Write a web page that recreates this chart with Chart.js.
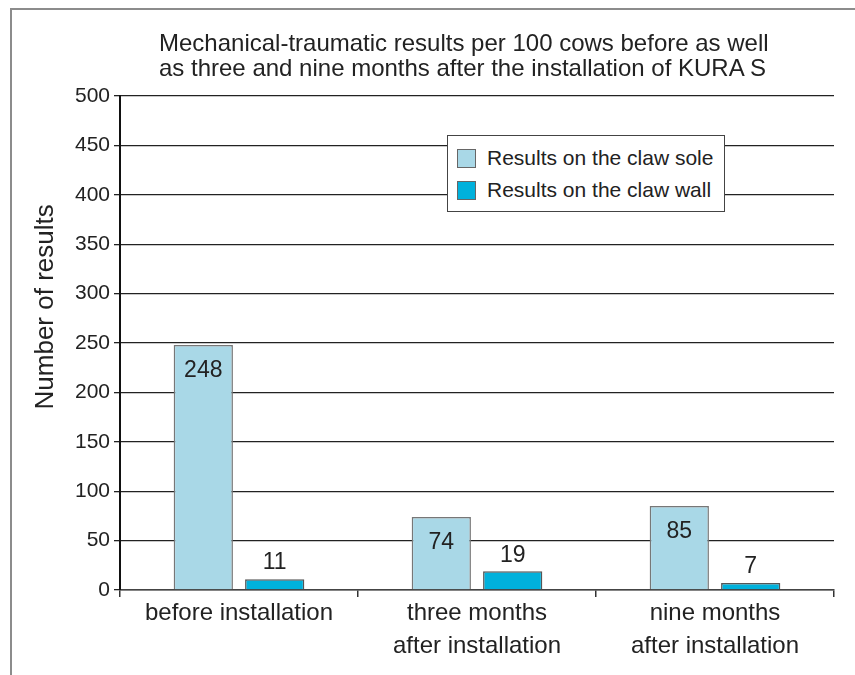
<!DOCTYPE html>
<html>
<head>
<meta charset="utf-8">
<script src="https://cdn.jsdelivr.net/npm/chart.js@4.4.1/dist/chart.umd.min.js"></script>
<style>
  html, body { margin: 0; padding: 0; background: #fff; }
  #wrap { position: relative; width: 855px; height: 675px; overflow: hidden; }
  #frame { position: absolute; left: 10px; top: 8px; width: 900px; height: 700px;
           border-left: 2px solid #8c8c8c; border-top: 2px solid #8c8c8c; }
  #chart { position: absolute; left: 0; top: 0; }
  #title { position: absolute; left: 159px; width: 600px; top: 30px; text-align: center;
           font: 24px/25px "Liberation Sans", Arial, sans-serif; color: #222; white-space: nowrap; }
  #legend { position: absolute; left: 447px; top: 135px; width: 278px; height: 77px;
            border: 1px solid #444; background: #fff; box-sizing: border-box;
            font: 21px "Liberation Sans", Arial, sans-serif; color: #222; padding-top: 6px; }
  #legend div { height: 32px; display: flex; align-items: center; }
  #legend span.box { display: inline-block; width: 17px; height: 17px; margin-left: 9px;
                     margin-right: 11px; border: 1px solid #666; }
</style>
</head>
<body>
<div id="wrap">
  <div id="frame"></div>
  <canvas id="chart" width="855" height="675"></canvas>
  <div id="title">Mechanical-traumatic results per 100 cows before as well<br>as three and nine months after the installation of KURA S</div>
  <div id="legend"></div>
</div>
<script>
const categories = ['before installation', ['three months', 'after installation'], ['nine months', 'after installation']];
const seriesNames = ['Results on the claw sole', 'Results on the claw wall'];
const soleValues = [248, 74, 85];
const wallValues = [11, 19, 7];
const yTicks = { min: 0, max: 500, step: 50 };

const soleColor = '#a9d8e7';
const wallColor = '#00b1dc';
const font = '"Liberation Sans", Arial, sans-serif';

const valueLabels = {
  id: 'valueLabels',
  afterDatasetsDraw(chart) {
    const ctx = chart.ctx;
    ctx.save();
    ctx.font = '23px ' + font;
    ctx.fillStyle = '#222';
    ctx.textAlign = 'center';
    ctx.textBaseline = 'middle';
    chart.data.datasets.forEach((ds, di) => {
      chart.getDatasetMeta(di).data.forEach((bar, i) => {
        const y = di === 0 ? bar.y + 26 : bar.y - 16;
        ctx.fillText(String(ds.data[i]), bar.x, y);
      });
    });
    ctx.restore();
  }
};

const chart = new Chart(document.getElementById('chart'), {
  type: 'bar',
  data: {
    labels: categories,
    datasets: [
      { label: seriesNames[0], data: soleValues, backgroundColor: soleColor,
        borderColor: '#777', borderWidth: 1.5, categoryPercentage: 0.6, barPercentage: 0.83 },
      { label: seriesNames[1], data: wallValues, backgroundColor: wallColor,
        borderColor: '#555', borderWidth: 1.5, categoryPercentage: 0.6, barPercentage: 0.83 }
    ]
  },
  options: {
    responsive: false,
    animation: false,
    layout: { padding: { left: 0, right: 21, top: 96, bottom: 0 } },
    plugins: {
      legend: { display: false },
      tooltip: { enabled: false }
    },
    scales: {
      x: {
        grid: {
          drawOnChartArea: true,
          color: c => c.index === 3 ? '#222' : 'rgba(0,0,0,0)',
          tickColor: '#333',
          tickLength: 7,
          lineWidth: 1.5
        },
        border: { color: '#444', width: 1.5 },
        ticks: { color: '#222', font: { family: font, size: 24, lineHeight: 1.375 }, padding: 0, maxRotation: 0 },
        afterFit: s => { s.height = 85; }
      },
      y: {
        min: yTicks.min,
        max: yTicks.max,
        ticks: { stepSize: yTicks.step, color: '#222', font: { family: font, size: 21 }, padding: 4 },
        grid: { color: '#222', lineWidth: 1.3, tickLength: 6 },
        border: { color: '#111', width: 2 },
        title: {
          display: true,
          text: '          Number of results',
          color: '#222',
          font: { family: font, size: 26 },
          padding: { top: 30, bottom: 0 }
        },
        afterFit: s => { s.width = 120; }
      }
    }
  },
  plugins: [valueLabels]
});

const legendEl = document.getElementById('legend');
chart.data.datasets.forEach(ds => {
  const row = document.createElement('div');
  const box = document.createElement('span');
  box.className = 'box';
  box.style.background = ds.backgroundColor;
  row.appendChild(box);
  row.appendChild(document.createTextNode(ds.label));
  legendEl.appendChild(row);
});
</script>
</body>
</html>
